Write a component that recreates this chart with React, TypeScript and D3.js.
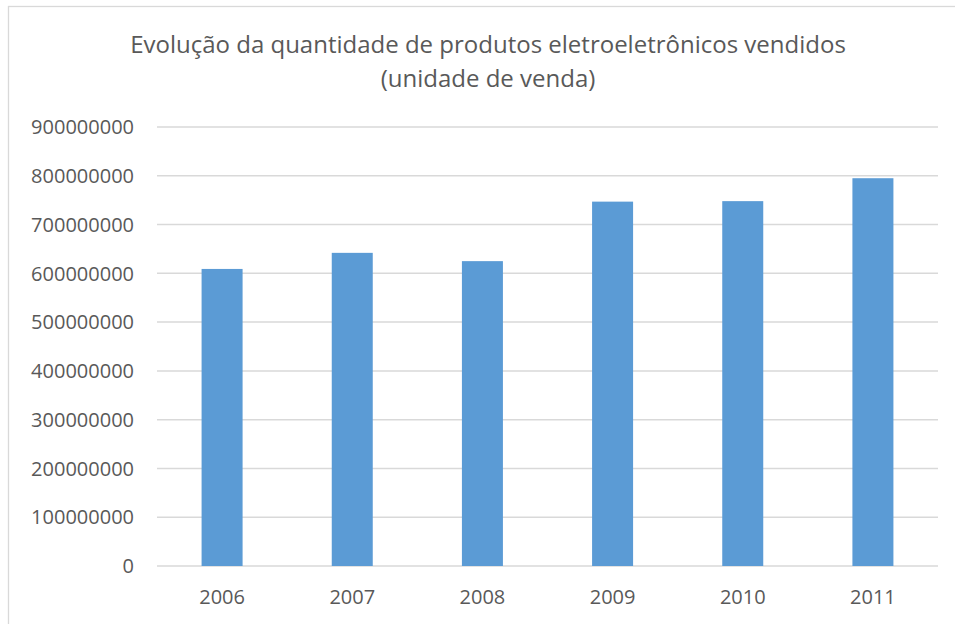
import React, { useEffect, useRef } from "react";
import * as d3 from "d3";

const years = ["2006", "2007", "2008", "2009", "2010", "2011"];
const vendas = [609000000, 642000000, 625000000, 747000000, 748000000, 795000000];
const yTicks = [0, 100000000, 200000000, 300000000, 400000000, 500000000, 600000000, 700000000, 800000000, 900000000];
const titleLines = ["Evolução da quantidade de produtos eletroeletrônicos vendidos", "(unidade de venda)"];

export default function App() {
  const ref = useRef<SVGSVGElement>(null);

  useEffect(() => {
    document.body.style.margin = "0";
    const width = 955;
    const height = 624;
    const margin = { left: 157, right: 17, top: 127, bottom: 58 };
    const font = "'Open Sans', sans-serif";
    const txt = "#595959";

    const svg = d3.select(ref.current);
    svg.selectAll("*").remove();

    // chart frame
    svg
      .append("rect")
      .attr("x", 8.5)
      .attr("y", 6.5)
      .attr("width", 960)
      .attr("height", 640)
      .attr("fill", "#fff")
      .attr("stroke", "#d9d9d9")
      .attr("stroke-width", 1.3);

    const x = d3
      .scaleBand()
      .domain(years)
      .range([margin.left, width - margin.right])
      .paddingInner(0.685)
      .paddingOuter(0.3425);

    const y = d3
      .scaleLinear()
      .domain([0, 900000000])
      .range([height - margin.bottom, margin.top]);

    // grid
    svg
      .append("g")
      .selectAll("line")
      .data(yTicks)
      .join("line")
      .attr("x1", margin.left)
      .attr("x2", width - margin.right)
      .attr("y1", (d) => y(d))
      .attr("y2", (d) => y(d))
      .attr("stroke", "#d9d9d9")
      .attr("stroke-width", 1.5);

    // bars
    svg
      .append("g")
      .selectAll("rect")
      .data(vendas)
      .join("rect")
      .attr("x", (d, i) => x(years[i])!)
      .attr("width", x.bandwidth())
      .attr("y", (d) => y(d))
      .attr("height", (d) => y(0) - y(d))
      .attr("fill", "#5b9bd5");

    // y labels
    svg
      .append("g")
      .selectAll("text")
      .data(yTicks)
      .join("text")
      .attr("x", 134)
      .attr("y", (d) => y(d))
      .attr("dy", "0.36em")
      .attr("text-anchor", "end")
      .attr("font-family", font)
      .attr("font-size", 20)
      .attr("fill", txt)
      .text((d) => String(d));

    // x labels
    svg
      .append("g")
      .selectAll("text")
      .data(years)
      .join("text")
      .attr("x", (d) => x(d)! + x.bandwidth() / 2)
      .attr("y", 604)
      .attr("text-anchor", "middle")
      .attr("font-family", font)
      .attr("font-size", 20)
      .attr("fill", txt)
      .text((d) => d);

    // title
    svg
      .append("g")
      .selectAll("text")
      .data(titleLines)
      .join("text")
      .attr("x", 488)
      .attr("y", (d, i) => 53 + i * 34)
      .attr("text-anchor", "middle")
      .attr("font-family", font)
      .attr("font-size", 24)
      .attr("fill", txt)
      .text((d) => d);
  }, []);

  return <svg ref={ref} width={955} height={624} style={{ display: "block" }} />;
}
